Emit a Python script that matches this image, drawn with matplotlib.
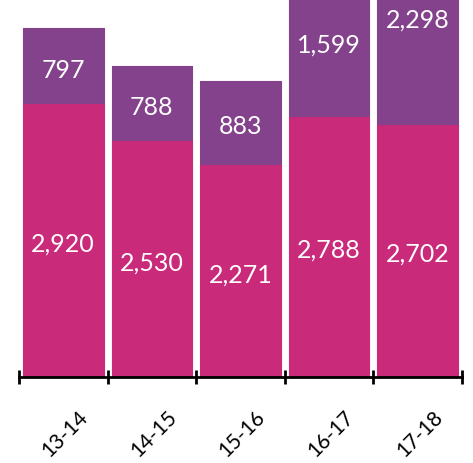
import matplotlib
matplotlib.use("Agg")
import matplotlib.pyplot as plt
import matplotlib.transforms as mtransforms

categories = ["13-14", "14-15", "15-16", "16-17", "17-18"]
bottom_vals = [2920, 2530, 2271, 2788, 2702]
top_vals = [797, 788, 883, 1599, 2298]

PINK = "#c92a7a"
PURPLE = "#84418c"

plt.rcParams["font.family"] = ["Lato", "DejaVu Sans"]

fig = plt.figure(figsize=(4.73, 4.63), dpi=100)
ax = fig.add_axes([0.040, 0.1857, 0.9367, 0.8143])

x = list(range(len(categories)))
width = 0.91

ax.bar(x, bottom_vals, width=width, color=PINK, edgecolor=PINK,
       linewidth=0.8, joinstyle="round", zorder=2)
ax.bar(x, top_vals, width=width, bottom=bottom_vals, color=PURPLE,
       edgecolor=PURPLE, linewidth=0.8, joinstyle="round", zorder=2)

# labels sit a touch below the segment middle
for i in x:
    b = bottom_vals[i]
    t = top_vals[i]
    ax.text(i, b / 2 - 45, f"{b:,}", ha="center", va="center", color="white",
            fontsize=18, zorder=3)
    ax.text(i, b + t / 2 - 45, f"{t:,}", ha="center", va="center",
            color="white", fontsize=18, zorder=3)

ax.set_xlim(-0.5, len(categories) - 0.5)
ax.set_ylim(0, 4020)

for s in ["top", "right", "left"]:
    ax.spines[s].set_visible(False)
ax.spines["bottom"].set_linewidth(2)
ax.spines["bottom"].set_color("black")
ax.spines["bottom"].set_zorder(4)

ax.set_yticks([])
ax.set_xticks([i - 0.5 for i in range(len(categories) + 1)])
ax.set_xticklabels([])
ax.tick_params(axis="x", direction="inout", length=10, width=2, color="black")

trans = mtransforms.blended_transform_factory(ax.transData, ax.transAxes)
for i, cat in enumerate(categories):
    ax.text(i + 0.02, -0.150, cat, transform=trans, rotation=45,
            ha="center", va="center", fontsize=15, color="black")

fig.savefig("out.png", dpi=100)
